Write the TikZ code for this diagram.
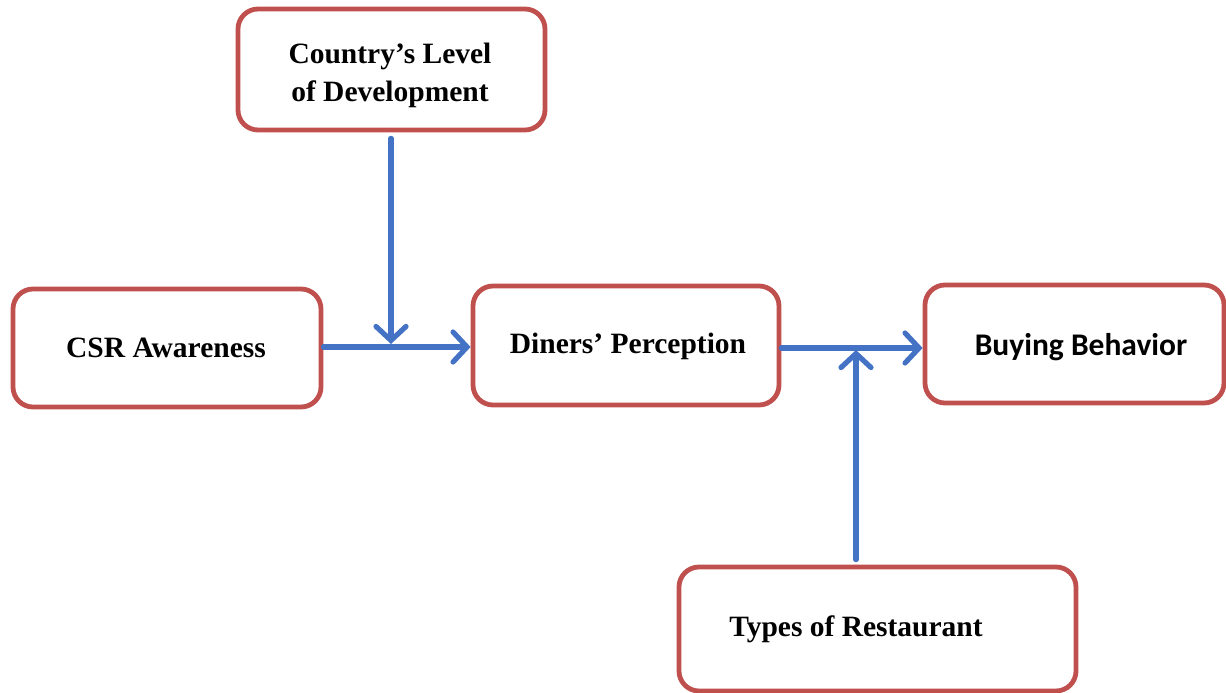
\documentclass[tikz,border=0pt]{standalone}
\usepackage{fontspec}
\setmainfont{Liberation Serif}
\newfontfamily\calfont{Carlito}
\usetikzlibrary{arrows.meta}
\definecolor{boxred}{RGB}{192,80,77}
\definecolor{arrblue}{RGB}{68,114,196}
\begin{document}
\begin{tikzpicture}[x=1pt,y=-1pt,
  box/.style={draw=boxred,line width=4.8pt,rounded corners=20pt,inner sep=0pt},
  lbl/.style={inner sep=0pt,anchor=base,font=\fontsize{29.5}{38}\selectfont\bfseries,align=center},
  arr/.style={draw=arrblue,line width=5.2pt,line cap=round,-{Straight Barb[length=14pt,width=30pt,line cap=round]}}]
\useasboundingbox (0,0) rectangle (1226,693);
\node[box,minimum width=307pt,minimum height=121pt] (top) at (391.5,69.5) {};
\node[box,minimum width=308pt,minimum height=118pt] (csr) at (167,348) {};
\node[box,minimum width=306pt,minimum height=119pt] (din) at (626,345.5) {};
\node[box,minimum width=299pt,minimum height=118pt] (buy) at (1074.5,344) {};
\node[box,minimum width=397pt,minimum height=124pt] (typ) at (877.5,629) {};
\node[lbl] (ttop) at (390,101) {Country’s Level\\of Development};
\node[lbl] (tcsr) at (166,357) {CSR Awareness};
\node[lbl] (tdin) at (628,353) {Diners’ Perception};
\node[lbl,font=\fontsize{31.5}{38}\selectfont\calfont\bfseries] (tbuy) at (1081,355) {Buying Behavior};
\node[lbl] (ttyp) at (856,636) {Types of Restaurant};
\coordinate (j1) at (391,347);
\coordinate (j2) at (856,348);
\draw[arr] (csr.east |- j1) -- (din.west |- j1);
\draw[arr] (din.east |- j2) -- (buy.west |- j2);
\draw[arr] ([yshift=-6pt]top.south -| j1) -- ([yshift=3pt]j1);
\draw[arr] ([yshift=5pt]typ.north -| j2) -- ([yshift=-2pt]j2);
\end{tikzpicture}
\end{document}
